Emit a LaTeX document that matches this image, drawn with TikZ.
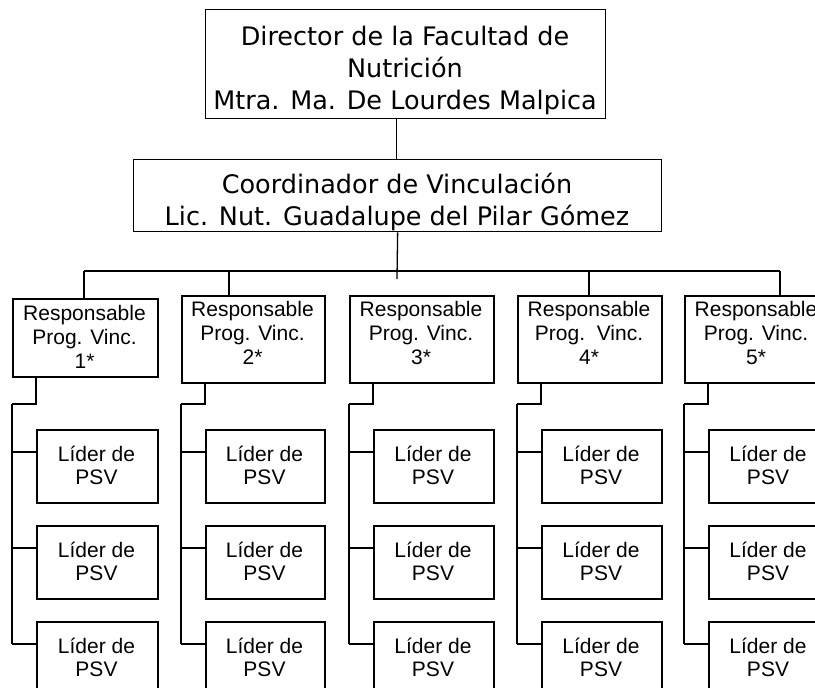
\documentclass[tikz,border=0pt]{standalone}
\usepackage{fontspec}
\setmainfont{Liberation Sans}
\newfontfamily\tahfont{DejaVu Sans}
\begin{document}
\begin{tikzpicture}[x=1pt,y=-1pt,
  box/.style={draw, line width=1.5pt, inner sep=0pt, anchor=north west},
  topbox/.style={draw, line width=1.3pt, inner sep=0pt, anchor=north west},
  toptext/.style={anchor=base, align=center, inner sep=0pt, font=\tahfont\fontsize{25.5}{32}\selectfont},
  resptext/.style={anchor=base, align=center, inner sep=0pt, font=\fontsize{21}{24}\selectfont},
  lidtext/.style={anchor=base, align=center, inner sep=0pt, font=\fontsize{21}{23}\selectfont},
  conn/.style={line width=1.5pt},
  topconn/.style={line width=1.3pt},
]
\clip (0,0) rectangle (815,688);

% top levels
\node[topbox, minimum width=400pt, minimum height=109pt] (dir) at (205,9) {};
\node[toptext] (dirt) at (405,109) {Director de la Facultad de\\Nutrición\\Mtra. Ma. De Lourdes Malpica};
\node[topbox, minimum width=528pt, minimum height=72pt] (coord) at (133,159) {};
\node[toptext] (coordt) at (397,225) {Coordinador de Vinculación\\Lic. Nut. Guadalupe del Pilar Gómez};

\draw[topconn] ([xshift=-9pt]dir.south) -- ([xshift=-9pt]dir.south |- coord.north);
\coordinate (cend) at (397,279);
\draw[topconn] (coord.south) -- (cend);

% bus
\coordinate (busL) at (84,271);
\coordinate (busR) at (780,271);
\draw[conn] (busL) -- (busR);

\foreach \k/\L/\T/\W/\H/\B/\pv in {
  1/12/298/145/78/368/{Prog. Vinc.},
  2/181/295/143/87/364/{Prog. Vinc.},
  3/349/295/144/87/364/{Prog. Vinc.},
  4/517/295/144/87/364/{Prog.\ \ Vinc.},
  5/684/295/144/87/364/{Prog. Vinc.}} {
  \node[box, minimum width=\W pt, minimum height=\H pt] (r\k) at (\L,\T) {};
  \pgfmathsetmacro\cx{\L+\W/2}
  \node[resptext] (r\k t) at (\cx,\B) {Responsable\\\pv\\\k*};
  \pgfmathsetmacro\lx{\L+24}
  \pgfmathsetmacro\lw{\W-24}
  \pgfmathsetmacro\lc{\L+24+(\W-24)/2}
  \coordinate (j\k) at (\L,404);
  \draw[conn] ([xshift=24pt]r\k.south west) |- (j\k);
  \foreach \j/\lt in {1/429, 2/525, 3/621} {
    \node[box, minimum width=\lw pt, minimum height=73pt] (l\k\j) at (\lx,\lt) {};
    \pgfmathsetmacro\by{\lt+55}
    \node[lidtext] (l\k\j t) at (\lc,\by) {Líder de\\PSV};
    \coordinate (b\k\j) at (\L,\lt+23);
    \draw[conn] (b\k\j) -- (b\k\j -| l\k\j.west);
  }
  \draw[conn] (j\k) -- (b\k3);
}

% drops from bus to boxes
\coordinate (t1) at (84,271);
\coordinate (t2) at (229,271);
\coordinate (t4) at (589,271);
\coordinate (t5) at (780,271);
\foreach \k in {1,2,4,5} {
  \draw[conn] (t\k) -- (t\k |- r\k.north);
}
\end{tikzpicture}
\end{document}
